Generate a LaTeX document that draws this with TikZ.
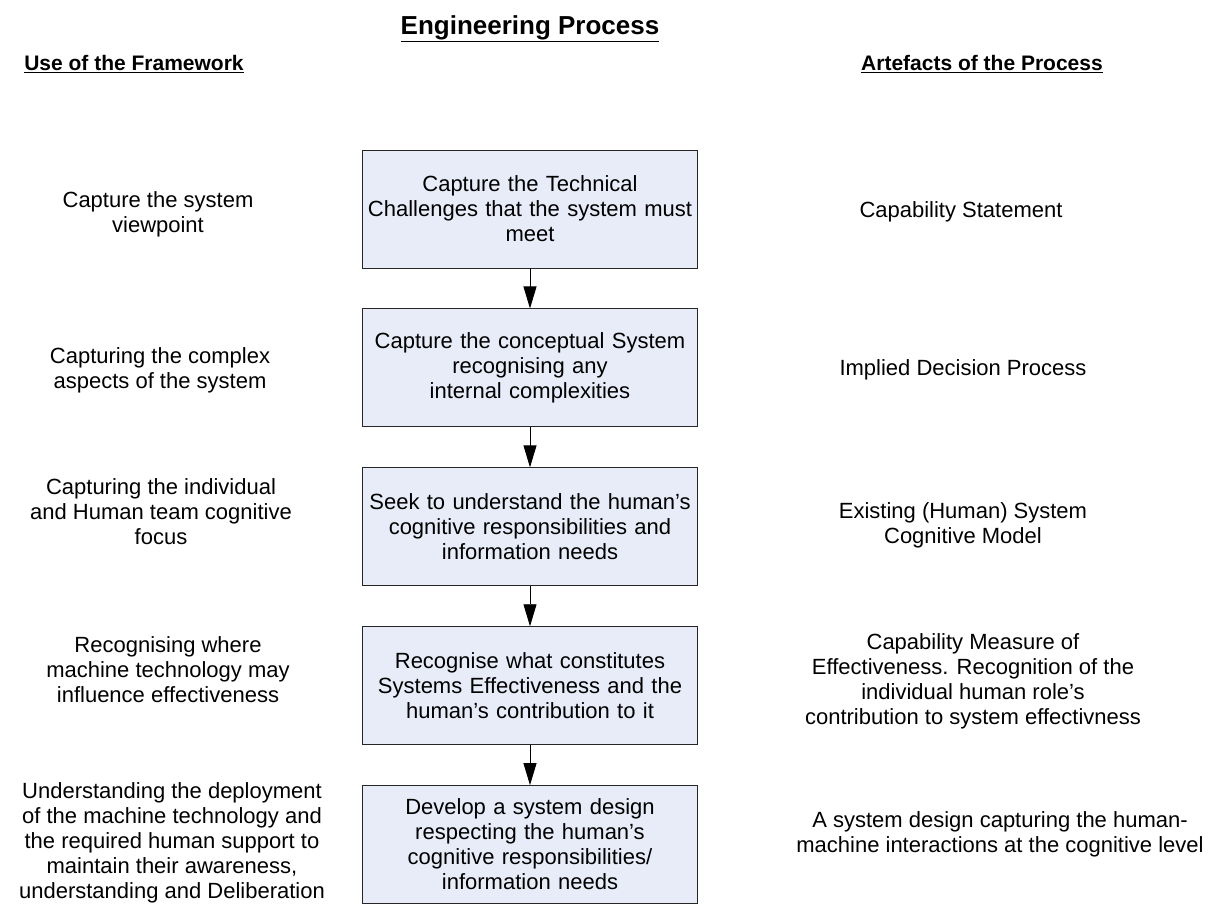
\documentclass[tikz,border=0pt]{standalone}
\usepackage{fontspec}
\setmainfont{Liberation Sans}
\usetikzlibrary{positioning, arrows.meta}
\definecolor{stepfill}{RGB}{232,236,248}

\begin{document}
\begin{tikzpicture}[x=1pt, y=1pt, node distance=40pt,
		stepbox/.style={rectangle, draw=black!85, fill=stepfill, line width=0.9pt, minimum width=335pt, minimum height=118pt, text width=325pt, align=center, font=\fontsize{22}{25}\selectfont},
		sidetext/.style={align=center, font=\fontsize{22}{25}\selectfont},
		heading/.style={font=\fontsize{21}{25}\selectfont\bfseries},
		flow/.style={-{Triangle[width=13pt, length=22pt]}, line width=0.9pt}]
			\useasboundingbox (0,0) rectangle (1211,-904);

			\node (title) [heading, font=\fontsize{26}{30}\selectfont\bfseries] at (530,-29) {\underline{Engineering Process}};
			\node (usehead) [heading] at (134,-64) {\underline{Use of the Framework}};
			\node (arthead) [heading] at (982,-64) {\underline{Artefacts of the Process}};

			\node (challenge) [stepbox] at (530,-209) {Capture the Technical\\Challenges that the system must\\meet};
			\node (concept) [stepbox, below=of challenge] {Capture the conceptual System\\recognising any\\internal complexities};
			\node (cognitive) [stepbox, below=of concept] {Seek to understand the human's\\cognitive responsibilities and\\information needs};
			\node (effect) [stepbox, below=of cognitive] {Recognise what constitutes\\Systems Effectiveness and the\\human's contribution to it};
			\node (design) [stepbox, below=of effect] {Develop a system design\\respecting the human's\\cognitive responsibilities/\\information needs};

			\node (useview) [sidetext] at (158,-214) {Capture the system\\viewpoint};
			\node (usecomplex) [sidetext] at (160,-370) {Capturing the complex\\aspects of the system};
			\node (usefocus) [sidetext] at (161,-512) {Capturing the individual\\and Human team cognitive\\focus};
			\node (usemachine) [sidetext] at (168,-670) {Recognising where\\machine technology may\\influence effectiveness};
			\node (usedeploy) [sidetext] at (172,-843) {Understanding the deployment\\of the machine technology and\\the required human support to\\maintain their awareness,\\understanding and Deliberation};

			\node (artcap) [sidetext] at (961,-212) {Capability Statement};
			\node (artdecision) [sidetext] at (963,-370) {Implied Decision Process};
			\node (artmodel) [sidetext] at (963,-525) {Existing (Human) System\\Cognitive Model};
			\node (artmeasure) [sidetext] at (973,-681) {Capability Measure of\\Effectiveness. Recognition of the\\individual human role's\\contribution to system effectivness};
			\node (artdesign) [sidetext] at (1000,-834) {A system design capturing the human-\\machine interactions at the cognitive level};

			\draw[flow] (challenge) -- (concept);
			\draw[flow] (concept) -- (cognitive);
			\draw[flow] (cognitive) -- (effect);
			\draw[flow] (effect) -- (design);
		\end{tikzpicture}
\end{document}
